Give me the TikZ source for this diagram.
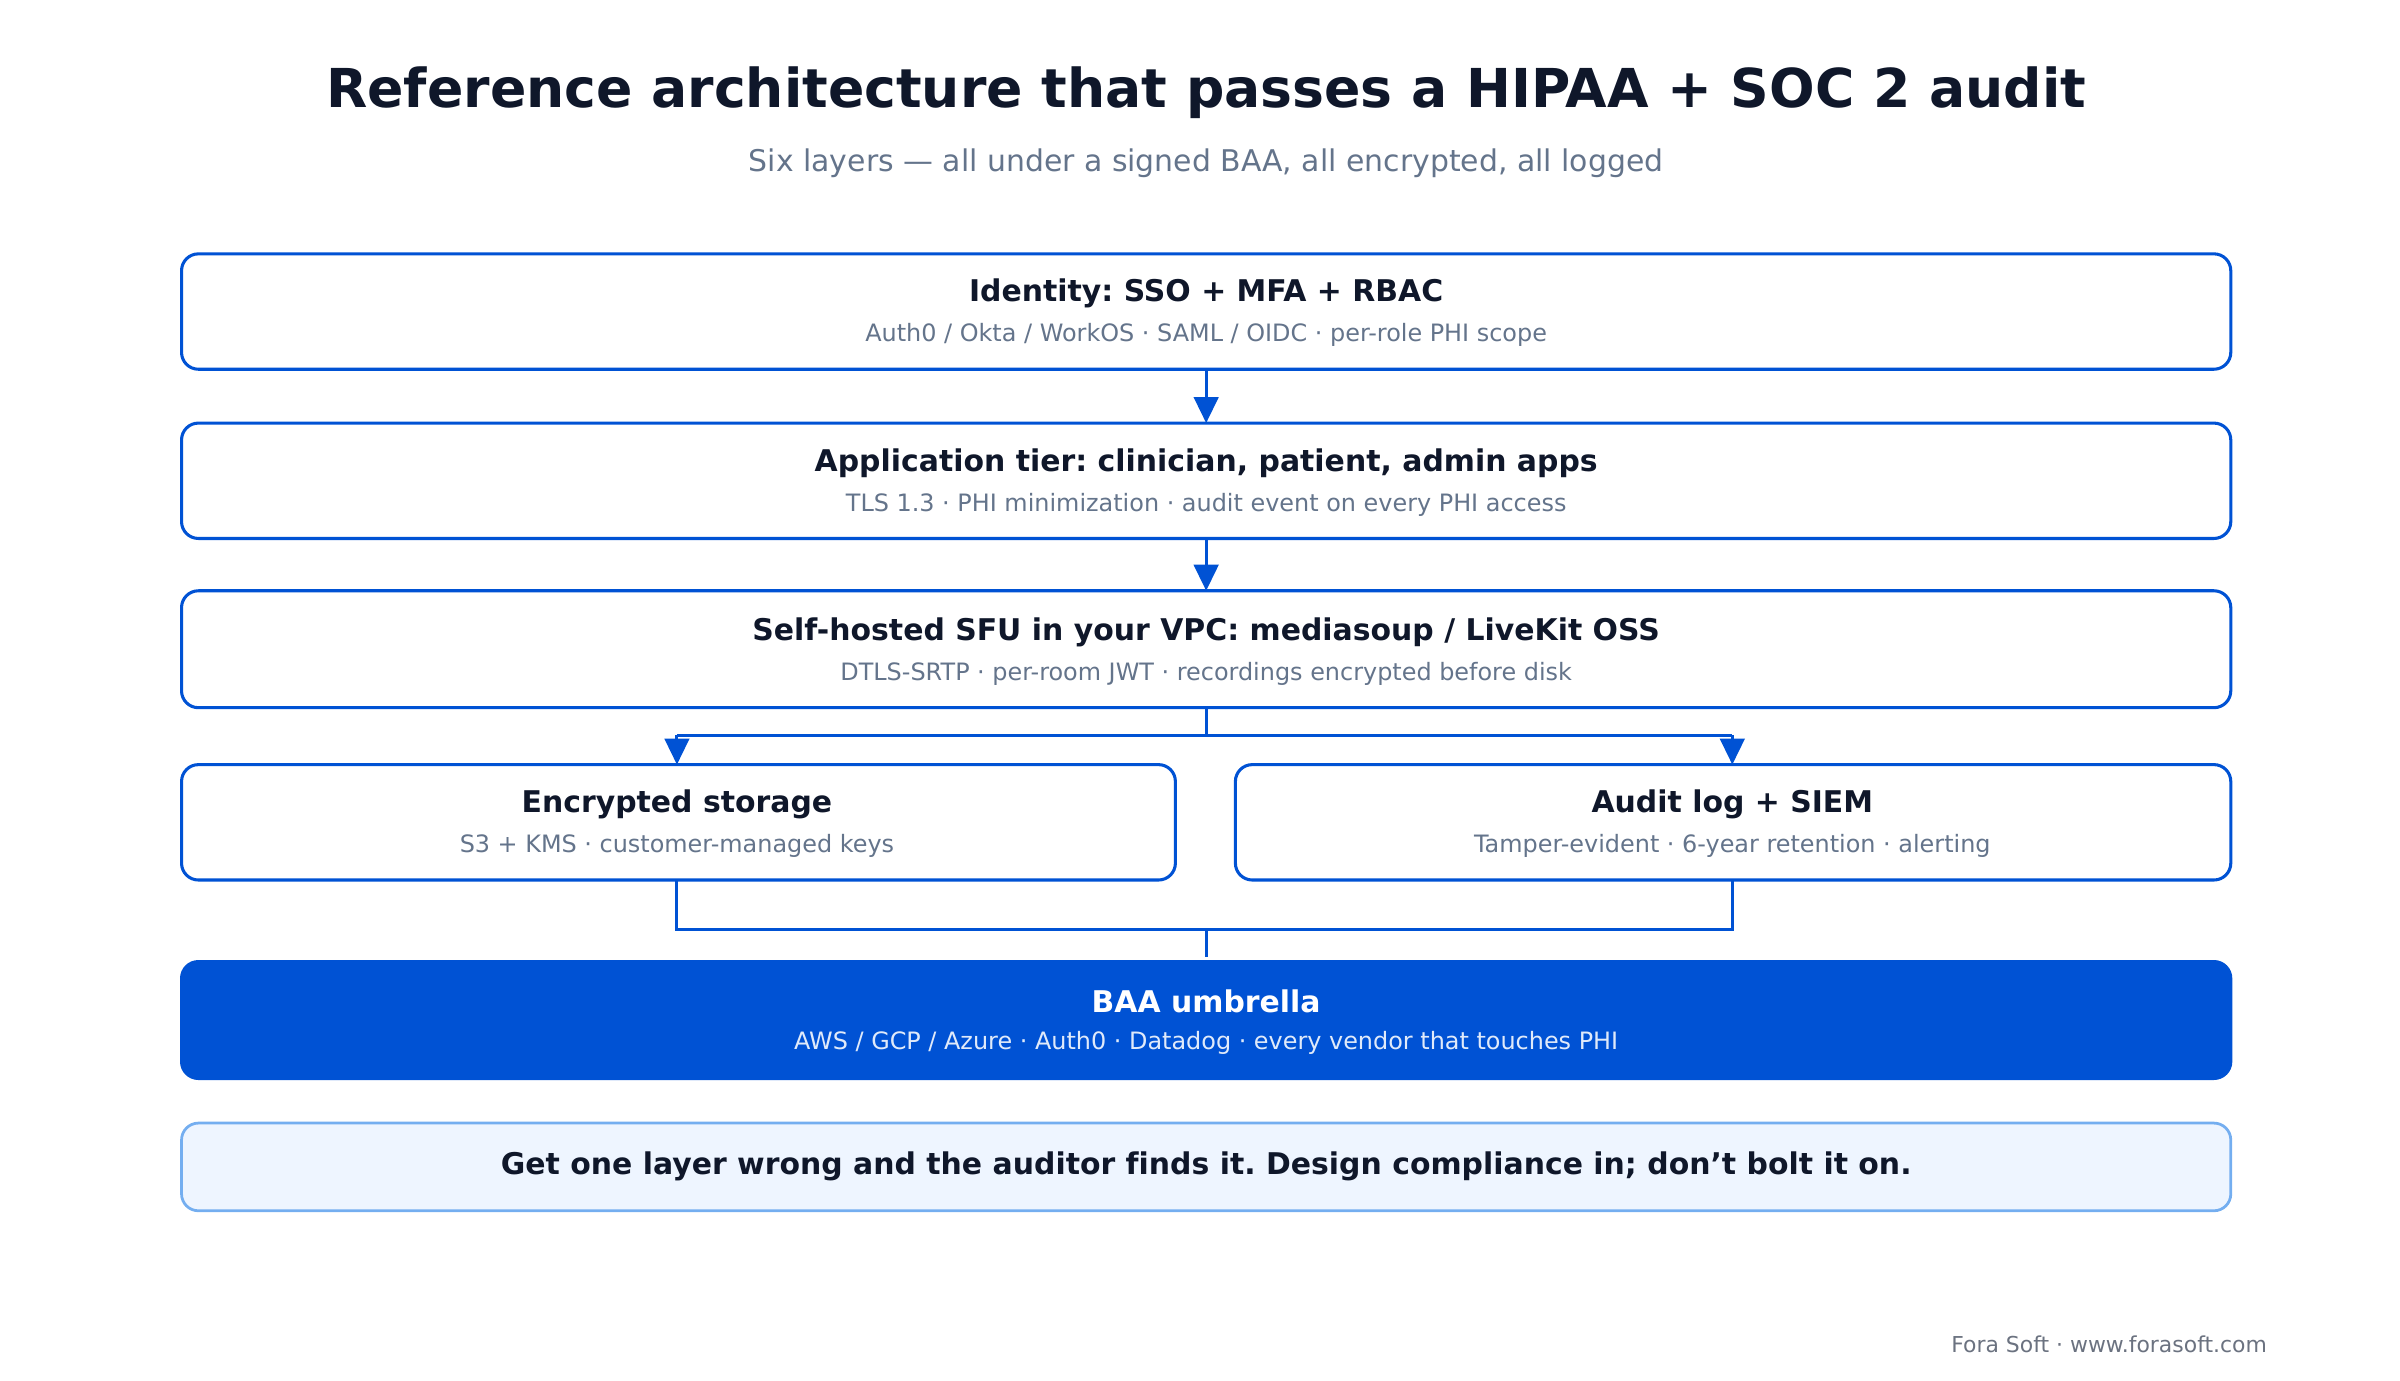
\documentclass[tikz,border=0pt]{standalone}
\usepackage{fontspec}
\setmainfont[Ligatures=NoCommon]{DejaVu Sans}
\usetikzlibrary{arrows.meta}
\definecolor{bl}{HTML}{0052D4}
\definecolor{dk}{HTML}{0F172A}
\definecolor{gr}{HTML}{64748B}
\definecolor{ft}{HTML}{6B7280}
\definecolor{pale}{HTML}{EEF5FF}
\definecolor{paleb}{HTML}{74AEF0}
\begin{document}
\frenchspacing
\begin{tikzpicture}[x=1bp,y=-1bp,
 box/.style={draw=bl,line width=2pt,rounded corners=11pt,fill=white},
 tt/.style={font=\bfseries\fontsize{19.5}{22}\selectfont,text=dk},
 st/.style={font=\fontsize{15.6}{18}\selectfont,text=gr},
 ln/.style={draw=bl,line width=2pt},
 ar/.style={ln,-{Triangle[length=17pt,width=16pt]}}]
\useasboundingbox (0,0) rectangle (1560,897);
\node[font=\bfseries\fontsize{35}{40}\selectfont,text=dk] (title) at (784,60) {Reference architecture that passes a HIPAA + SOC 2 audit};
\node[font=\fontsize{19.5}{22}\selectfont,text=gr] (sub) at (784,106) {Six layers — all under a signed BAA, all encrypted, all logged};
% boxes
\draw[box] (118,165) rectangle (1450,240); \coordinate (b1t) at (784,165); \coordinate (b1b) at (784,240);
\node[tt] (t1) at (784,191) {Identity: SSO + MFA + RBAC};
\node[st] (s1) at (784,218) {Auth0 / Okta / WorkOS · SAML / OIDC · per-role PHI scope};
\draw[box] (118,275) rectangle (1450,350); \coordinate (b2t) at (784,275); \coordinate (b2b) at (784,350);
\node[tt] (t2) at (784,301) {Application tier: clinician, patient, admin apps};
\node[st] (s2) at (784,328) {TLS 1.3 · PHI minimization · audit event on every PHI access};
\draw[box] (118,384) rectangle (1450,460); \coordinate (b3t) at (784,384); \coordinate (b3b) at (784,460);
\node[tt] (t3) at (784,411) {Self-hosted SFU in your VPC: mediasoup / LiveKit OSS};
\node[st] (s3) at (784,438) {DTLS-SRTP · per-room JWT · recordings encrypted before disk};
\draw[box] (118,497) rectangle (764,572); \coordinate (b4t) at (440,497); \coordinate (b4b) at (440,572);
\node[tt] (t4) at (440,523) {Encrypted storage};
\node[st] (s4) at (440,550) {S3 + KMS · customer-managed keys};
\draw[box] (803,497) rectangle (1450,572); \coordinate (b5t) at (1126,497); \coordinate (b5b) at (1126,572);
\node[tt] (t5) at (1126,523) {Audit log + SIEM};
\node[st] (s5) at (1126,550) {Tamper-evident · 6-year retention · alerting};
\draw[fill=bl,draw=bl,line width=2pt,rounded corners=11pt] (118,625) rectangle (1450,701); \coordinate (b6t) at (784,622);
\node[font=\bfseries\fontsize{19.5}{22}\selectfont,text=white] (t6) at (784,651) {BAA umbrella};
\node[font=\fontsize{15.6}{18}\selectfont,text=white!88!bl] (s6) at (784,678) {AWS / GCP / Azure · Auth0 · Datadog · every vendor that touches PHI};
\draw[draw=paleb,fill=pale,line width=1.8pt,rounded corners=11pt] (118,730) rectangle (1450,787);
\node[tt] (t7) at (784,758) {Get one layer wrong and the auditor finds it. Design compliance in; don\symbol{"0027}t bolt it on.};
\node[font=\fontsize{14.3}{16}\selectfont,text=ft,anchor=east] (foot) at (1477,874) {Fora Soft · www.forasoft.com};
% connectors
\draw[ar] (b1b) -- (b2t);
\draw[ar] (b2b) -- (b3t);
\coordinate (sp) at (784,478); \coordinate (spl) at (440,478); \coordinate (spr) at (1126,478);
\draw[ln] (b3b) -- (sp);
\draw[ln] (spl) -- (spr);
\draw[ar] (spl) -- (b4t);
\draw[ar] (spr) -- (b5t);
\coordinate (ml) at (440,604); \coordinate (mr) at (1126,604); \coordinate (mc) at (784,604);
\draw[ln] (b4b) -- (ml) -- (mr) -- (b5b);
\draw[ln] (mc) -- (b6t);
\end{tikzpicture}
\end{document}
